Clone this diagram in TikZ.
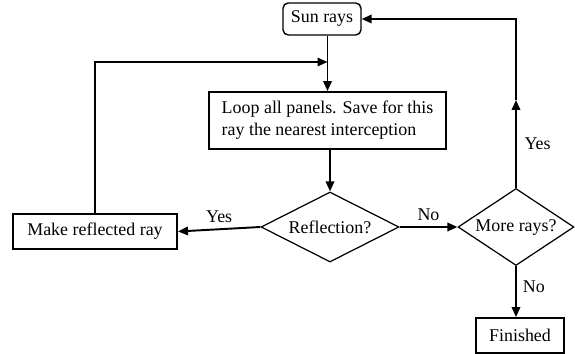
\documentclass[tikz,border=0pt]{standalone}
\usepackage{fontspec}
\setmainfont{Liberation Serif}
\usetikzlibrary{arrows.meta, shapes.geometric}

\begin{document}
\begin{tikzpicture}[
    font = \fontsize{10.2pt}{12.6pt}\selectfont,
    box/.style = {draw, line width=1.1pt, inner sep=0pt},
    choice/.style = {draw, diamond, line width=0.7pt, inner sep=0pt},
    arr/.style = {line width=1.1pt, -{Triangle[length=2mm, width=1.7mm]}}
  ]
    \useasboundingbox (0, 0) rectangle (11.5, -7.08);

    \node[box, rounded corners=3pt, line width=0.8pt, minimum width=1.56cm, minimum height=0.64cm] (sun) at (6.44, -0.38) {Sun rays};
    \node[box, minimum width=4.74cm, minimum height=1.14cm, align=left] (loop) at (6.55, -2.41) {Loop all panels. Save for this\\ray the nearest interception};
    \node[choice, minimum width=2.76cm, minimum height=1.4cm] (refl) at (6.6, -4.54) {\makebox[0pt]{Reflection?}};
    \node[box, minimum width=3.28cm, minimum height=0.7cm] (make) at (1.9, -4.63) {Make reflected ray};
    \node[choice, minimum width=2.32cm, minimum height=1.54cm] (more) at (10.32, -4.54) {\makebox[0pt]{More rays?}};
    \node[box, minimum width=1.76cm, minimum height=0.7cm] (fin) at (10.4, -6.71) {Finished};

    % joints on the feedback lines
    \coordinate (back) at (6.55, -1.24);
    \coordinate (up) at (10.32, -2.0);

    \draw[arr] (sun.south -| loop.north) -- (loop.north);
    \draw[arr] (make.north) |- (back);
    \draw[arr] (loop.south -| refl.north) -- (refl.north);
    \draw[arr] (refl.west) -- node[above] {Yes} (make.east);
    \draw[arr] (refl.east) -- node[above] {No} (more.west);
    \draw[arr] (more.south) -- node[pos=0.4, right=0pt] {No} (more.south |- fin.north);
    \draw[arr] (more.north) -- node[pos=0.5, right=1pt] {Yes} (up);
    \draw[arr] (up) |- (sun.east);

  \end{tikzpicture}
\end{document}
